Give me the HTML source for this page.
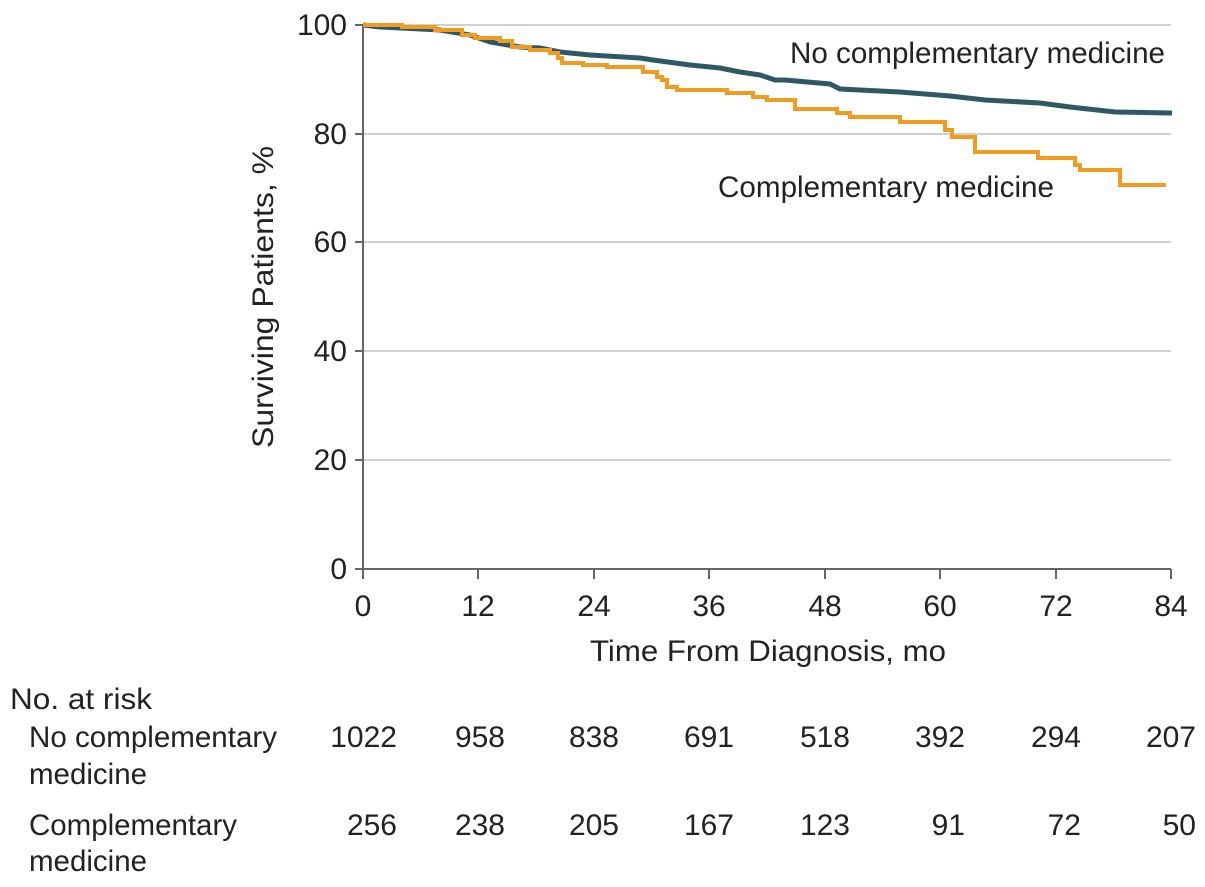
<!DOCTYPE html>
<html><head><meta charset="utf-8"><style>body{margin:0;background:#fff}svg{display:block}text{font-family:"Liberation Sans Narrow","Liberation Sans",sans-serif;fill:#222;font-size:30px}</style></head><body>
<svg width="1205" height="887" viewBox="0 0 1205 887" xmlns="http://www.w3.org/2000/svg">
<g stroke="#d0d0d0" stroke-width="2">
<line x1="363" y1="25" x2="1171" y2="25"/><line x1="363" y1="134" x2="1171" y2="134"/><line x1="363" y1="242" x2="1171" y2="242"/><line x1="363" y1="351" x2="1171" y2="351"/><line x1="363" y1="460" x2="1171" y2="460"/>
</g>
<g stroke="#666" stroke-width="2" fill="none">
<line x1="363" y1="25" x2="363" y2="569"/><line x1="355" y1="569" x2="1171" y2="569"/>
<line x1="355" y1="25" x2="363" y2="25"/><line x1="355" y1="134" x2="363" y2="134"/><line x1="355" y1="242" x2="363" y2="242"/><line x1="355" y1="351" x2="363" y2="351"/><line x1="355" y1="460" x2="363" y2="460"/>
<line x1="363" y1="569" x2="363" y2="579"/><line x1="478" y1="569" x2="478" y2="579"/><line x1="594" y1="569" x2="594" y2="579"/><line x1="709" y1="569" x2="709" y2="579"/><line x1="825" y1="569" x2="825" y2="579"/><line x1="940" y1="569" x2="940" y2="579"/><line x1="1056" y1="569" x2="1056" y2="579"/><line x1="1171" y1="569" x2="1171" y2="579"/>
</g>
<polyline fill="none" stroke="#2f5866" stroke-width="5" points="363,25 380,27 440,30 470,35 490,42 520,47 540,48 560,52 590,55 640,58 653,60 690,65 720,68 740,72 760,75 775,80 785,80 830,84 840,89 900,92 950,96 985,100 1040,103 1070,107 1115,112 1172,113"/>
<polyline fill="none" stroke="#f29b1f" stroke-width="4" points="363,25 402,25 402,27 435,27 435,30 462,30 462,35 475,35 475,38 500,38 500,41 512,41 512,47 530,47 530,50 550,50 550,53 558,53 558,58 562,58 562,63 583,63 583,65 607,65 607,67 643,67 643,72 657,72 657,77 662,77 662,80 667,80 667,87 677,87 677,90 727,90 727,93 753,93 753,97 767,97 767,100 795,100 795,109 837,109 837,113 850,113 850,117 900,117 900,122 945,122 945,130 952,130 952,137 975,137 975,152 1038,152 1038,158 1075,158 1075,165 1080,165 1080,170 1120,170 1120,185 1166,185"/>
<g text-anchor="end">
<text x="347" y="35">100</text><text x="347" y="144">80</text><text x="347" y="252">60</text><text x="347" y="361">40</text><text x="347" y="470">20</text><text x="347" y="579">0</text>
</g>
<g text-anchor="middle">
<text x="363" y="616">0</text><text x="478" y="616">12</text><text x="594" y="616">24</text><text x="709" y="616">36</text><text x="825" y="616">48</text><text x="940" y="616">60</text><text x="1056" y="616">72</text><text x="1171" y="616">84</text>
<text x="768" y="661" textLength="356" lengthAdjust="spacingAndGlyphs">Time From Diagnosis, mo</text>
<text transform="translate(273,297) rotate(-90)" textLength="302" lengthAdjust="spacingAndGlyphs">Surviving Patients, %</text>
</g>
<text x="790" y="63" textLength="375" lengthAdjust="spacingAndGlyphs">No complementary medicine</text>
<text x="718" y="197" textLength="336" lengthAdjust="spacingAndGlyphs">Complementary medicine</text>
<text x="10" y="709" textLength="142" lengthAdjust="spacingAndGlyphs">No. at risk</text>
<text x="29" y="747" textLength="248" lengthAdjust="spacingAndGlyphs">No complementary</text>
<text x="29" y="784" textLength="118" lengthAdjust="spacingAndGlyphs">medicine</text>
<text x="29" y="835" textLength="208" lengthAdjust="spacingAndGlyphs">Complementary</text>
<text x="29" y="871" textLength="118" lengthAdjust="spacingAndGlyphs">medicine</text>
<g text-anchor="end">
<text x="397" y="747">1022</text><text x="505" y="747">958</text><text x="619" y="747">838</text><text x="734" y="747">691</text><text x="850" y="747">518</text><text x="965" y="747">392</text><text x="1081" y="747">294</text><text x="1196" y="747">207</text>
<text x="397" y="835">256</text><text x="505" y="835">238</text><text x="619" y="835">205</text><text x="734" y="835">167</text><text x="850" y="835">123</text><text x="965" y="835">91</text><text x="1081" y="835">72</text><text x="1196" y="835">50</text>
</g>
</svg>
</body></html>
